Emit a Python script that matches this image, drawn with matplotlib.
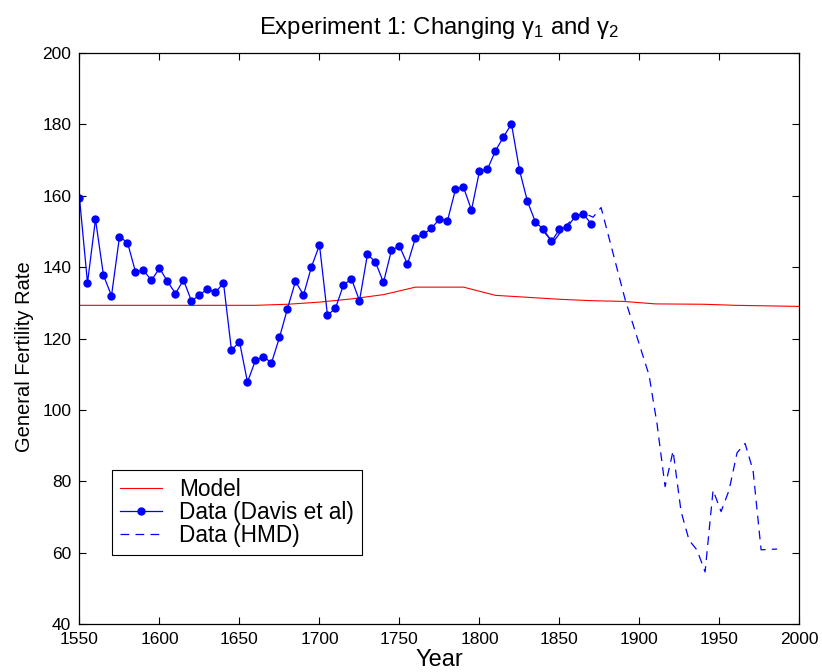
import matplotlib
matplotlib.use("Agg")
import matplotlib.pyplot as plt

plt.rcParams['font.family'] = ['Liberation Sans', 'DejaVu Sans']
plt.rcParams['mathtext.fontset'] = 'custom'
plt.rcParams['mathtext.rm'] = 'Liberation Sans'
plt.rcParams['mathtext.it'] = 'Liberation Sans'

# Davis et al. series, every 5 years 1550-1870
davis_years = list(range(1550, 1871, 5))
davis_gfr = [159.4, 135.6, 153.4, 137.7, 132.0, 148.5, 146.9, 138.7, 139.1, 136.3,
             139.7, 136.0, 132.6, 136.4, 130.5, 132.2, 133.9, 132.9, 135.6, 116.7,
             119.1, 107.8, 113.9, 114.9, 113.2, 120.3, 128.4, 136.0, 132.2, 140.1,
             146.2, 126.5, 128.5, 135.0, 136.7, 130.6, 143.6, 141.4, 135.7, 144.8,
             145.9, 140.8, 148.2, 149.2, 150.9, 153.5, 153.0, 161.8, 162.4, 156.0,
             166.9, 167.5, 172.6, 176.5, 180.1, 167.2, 158.4, 152.6, 150.6, 147.2,
             150.6, 151.2, 154.4, 154.9, 152.0]

# Human Mortality Database series
hmd_years = [1841, 1846, 1851, 1856, 1861, 1866, 1871, 1876, 1891, 1906, 1911,
             1916, 1921, 1926, 1931, 1936, 1941, 1946, 1951, 1956, 1961, 1966,
             1971, 1976, 1981, 1986]
hmd_gfr = [149.5, 147.0, 150.0, 152.5, 154.5, 155.0, 154.0, 156.7, 131.0, 109.7,
           96.0, 78.5, 88.5, 71.5, 63.5, 60.7, 54.6, 77.5, 71.5, 77.5, 88.0,
           90.6, 83.0, 60.8, 60.9, 61.0]

# model output
model_years = [1550, 1600, 1660, 1680, 1700, 1720, 1740, 1760, 1790, 1810,
               1850, 1870, 1890, 1910, 1940, 1960, 2000]
model_gfr = [129.3, 129.3, 129.3, 129.6, 130.2, 131.1, 132.3, 134.4, 134.4, 132.1,
             131.0, 130.6, 130.4, 129.7, 129.6, 129.3, 129.0]

fig = plt.figure(figsize=(8.22, 6.72), dpi=100)
ax = fig.add_axes([0.0967, 0.0714, 0.8759, 0.8497])

ax.plot(model_years, model_gfr, color='red', lw=0.8, label='Model')
ax.plot(davis_years, davis_gfr, color='blue', lw=0.9, marker='o', ms=5,
        label='Data (Davis et al)')
ax.plot(hmd_years, hmd_gfr, color='blue', lw=0.9, ls=(0, (7, 5)),
        label='Data (HMD)')

ax.set_xlim(1550, 2000)
ax.set_ylim(40, 200)
ax.set_xticks(range(1550, 2001, 50))
ax.set_yticks(range(40, 201, 20))
ax.tick_params(direction='in', length=5, width=0.8, top=True, right=True,
               labelsize=12.5, pad=6)
for s in ax.spines.values():
    s.set_linewidth(0.9)

ax.set_title(r'Experiment 1: Changing $\gamma_1$ and $\gamma_2$', fontsize=17.2, pad=14)
ax.set_xlabel('Year', fontsize=17, labelpad=1)
ax.set_ylabel('General Fertility Rate', fontsize=14.5)
ax.yaxis.set_label_coords(-0.063, 0.468)

leg = ax.legend(loc='lower left', bbox_to_anchor=(0.045, 0.121), borderaxespad=0,
                fontsize=16.3, fancybox=False, framealpha=1, edgecolor='black',
                handlelength=1.86, handletextpad=0.75, borderpad=0.35,
                labelspacing=0.0)
leg.get_frame().set_linewidth(0.8)

fig.savefig('out.png', dpi=100)
